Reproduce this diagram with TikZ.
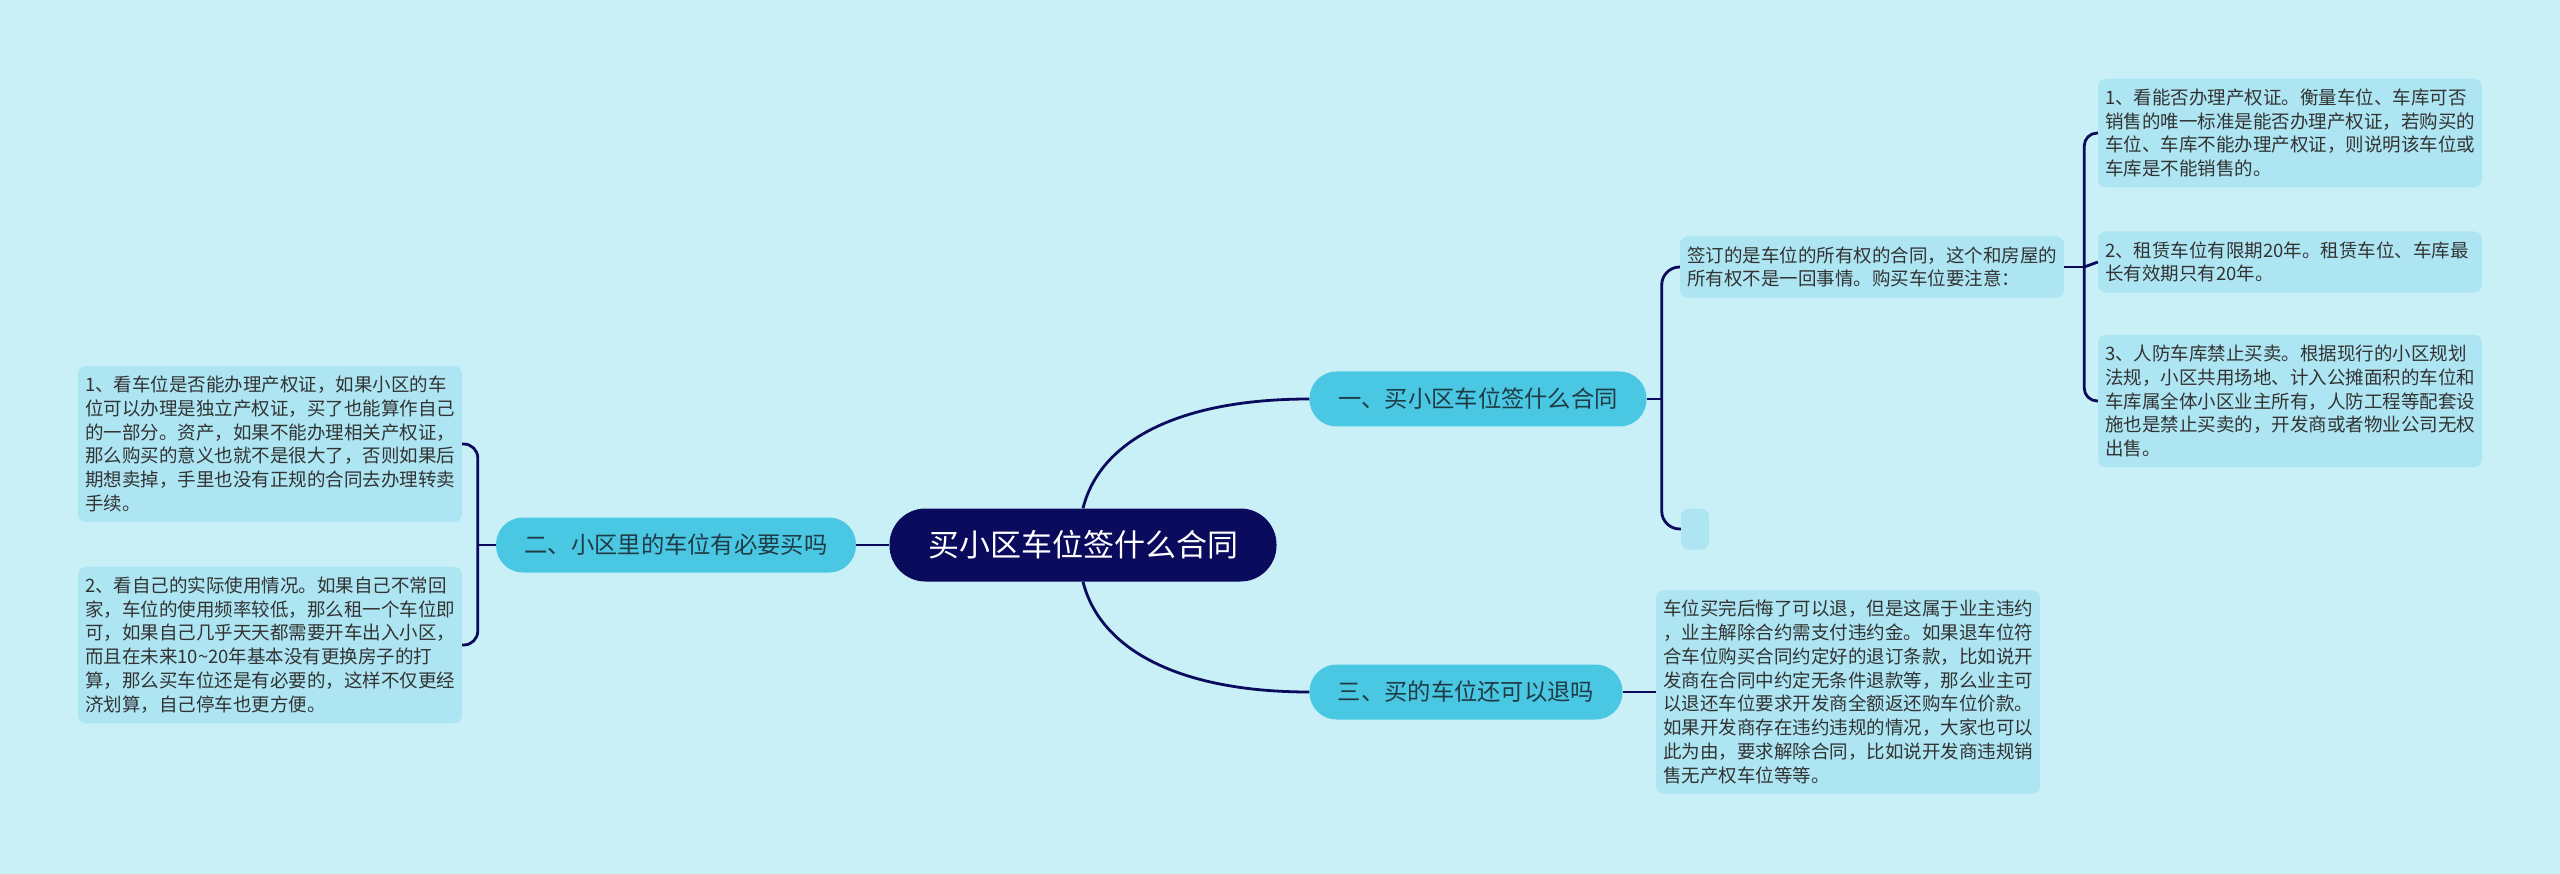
\documentclass[tikz,border=0pt]{standalone}
\usepackage{fontspec}
\setmainfont{Noto Sans CJK SC}
\definecolor{bgcol}{HTML}{C9EFF7}
\definecolor{navy}{HTML}{0B0B5E}
\definecolor{branchcol}{HTML}{4AC8E3}
\definecolor{leafcol}{HTML}{ADE5F2}
\definecolor{branchtext}{HTML}{1F3B45}
\definecolor{leaftext}{HTML}{333333}
\newcommand\leaffont{\fontsize{18.5}{23.8}\selectfont\lineskiplimit-100pt\relax}
\begin{document}
\begin{tikzpicture}[x=1pt,y=-1pt,
    link/.style={draw=navy,line width=2.8pt},
    rootbox/.style={fill=navy,text=white,rounded corners=36pt,minimum width=387pt,minimum height=73pt,
        inner sep=0pt,font=\fontsize{31}{36}\selectfont},
    branch/.style={fill=branchcol,text=branchtext,rounded corners=27pt,minimum height=55pt,
        inner sep=0pt,font=\fontsize{23.3}{28}\selectfont},
    leaf/.style={fill=leafcol,text=leaftext,rounded corners=8pt,inner xsep=7pt,inner ysep=10pt,
        text width=370pt,align=left,font=\leaffont}]
\fill[bgcol](0,0) rectangle (2560,874);
% centre and branches
\node[rootbox](root) at (1083,545) {买小区车位签什么合同};
\node[branch,minimum width=337pt](b1) at (1478,399) {一、买小区车位签什么合同};
\node[branch,minimum width=360pt](b2) at (676,545) {二、小区里的车位有必要买吗};
\node[branch,minimum width=313pt](b3) at (1466,692) {三、买的车位还可以退吗};
\draw[link](root.north) .. controls +(17,-68) and +(-130,0) .. (b1.west);
\draw[link](root.south) .. controls +(17,68) and +(-130,0) .. (b3.west);
\draw[link](root.west)--(b2.east);
% branch one
\node[leaf](s1) at (1872,267) {签订的是车位的所有权的合同，这个和房屋的\\所有权不是一回事情。购买车位要注意：};
\node[fill=leafcol,rounded corners=8pt,minimum width=28pt,minimum height=41pt,inner sep=0pt](e1) at (1695,529) {};
\draw[link](b1.east)--++(15,0)coordinate(k1);
\draw[link,rounded corners=18pt](k1)|-(s1.west);
\draw[link,rounded corners=18pt](k1)|-(e1.west);
\node[leaf](r1) at (2290,133) {1、看能否办理产权证。衡量车位、车库可否\\销售的唯一标准是能否办理产权证，若购买的\\车位、车库不能办理产权证，则说明该车位或\\车库是不能销售的。};
\node[leaf](r2) at (2290,262) {2、租赁车位有限期20年。租赁车位、车库最\\长有效期只有20年。};
\node[leaf](r3) at (2290,401) {3、人防车库禁止买卖。根据现行的小区规划\\法规，小区共用场地、计入公摊面积的车位和\\车库属全体小区业主所有，人防工程等配套设\\施也是禁止买卖的，开发商或者物业公司无权\\出售。};
\draw[link](s1.east)--++(20,0)coordinate(k2);
\draw[link,rounded corners=13pt](k2)|-(r1.west);
\draw[link](k2)--(r2.west);
\draw[link,rounded corners=13pt](k2)|-(r3.west);
% branch two
\node[leaf](l1) at (270,444) {1、看车位是否能办理产权证，如果小区的车\\位可以办理是独立产权证，买了也能算作自己\\的一部分。资产，如果不能办理相关产权证，\\那么购买的意义也就不是很大了，否则如果后\\期想卖掉，手里也没有正规的合同去办理转卖\\手续。};
\node[leaf](l2) at (270,645) {2、看自己的实际使用情况。如果自己不常回\\家，车位的使用频率较低，那么租一个车位即\\可，如果自己几乎天天都需要开车出入小区，\\而且在未来10\textasciitilde20年基本没有更换房子的打\\算，那么买车位还是有必要的，这样不仅更经\\济划算，自己停车也更方便。};
\draw[link](b2.west)--++(-18,0)coordinate(k3);
\draw[link,rounded corners=14pt](k3)|-(l1.east);
\draw[link,rounded corners=14pt](k3)|-(l2.east);
% branch three
\node[leaf](t1) at (1848,692) {车位买完后悔了可以退，但是这属于业主违约\\，业主解除合约需支付违约金。如果退车位符\\合车位购买合同约定好的退订条款，比如说开\\发商在合同中约定无条件退款等，那么业主可\\以退还车位要求开发商全额返还购车位价款。\\如果开发商存在违约违规的情况，大家也可以\\此为由，要求解除合同，比如说开发商违规销\\售无产权车位等等。};
\draw[link](b3.east)--(t1.west);
\end{tikzpicture}
\end{document}
